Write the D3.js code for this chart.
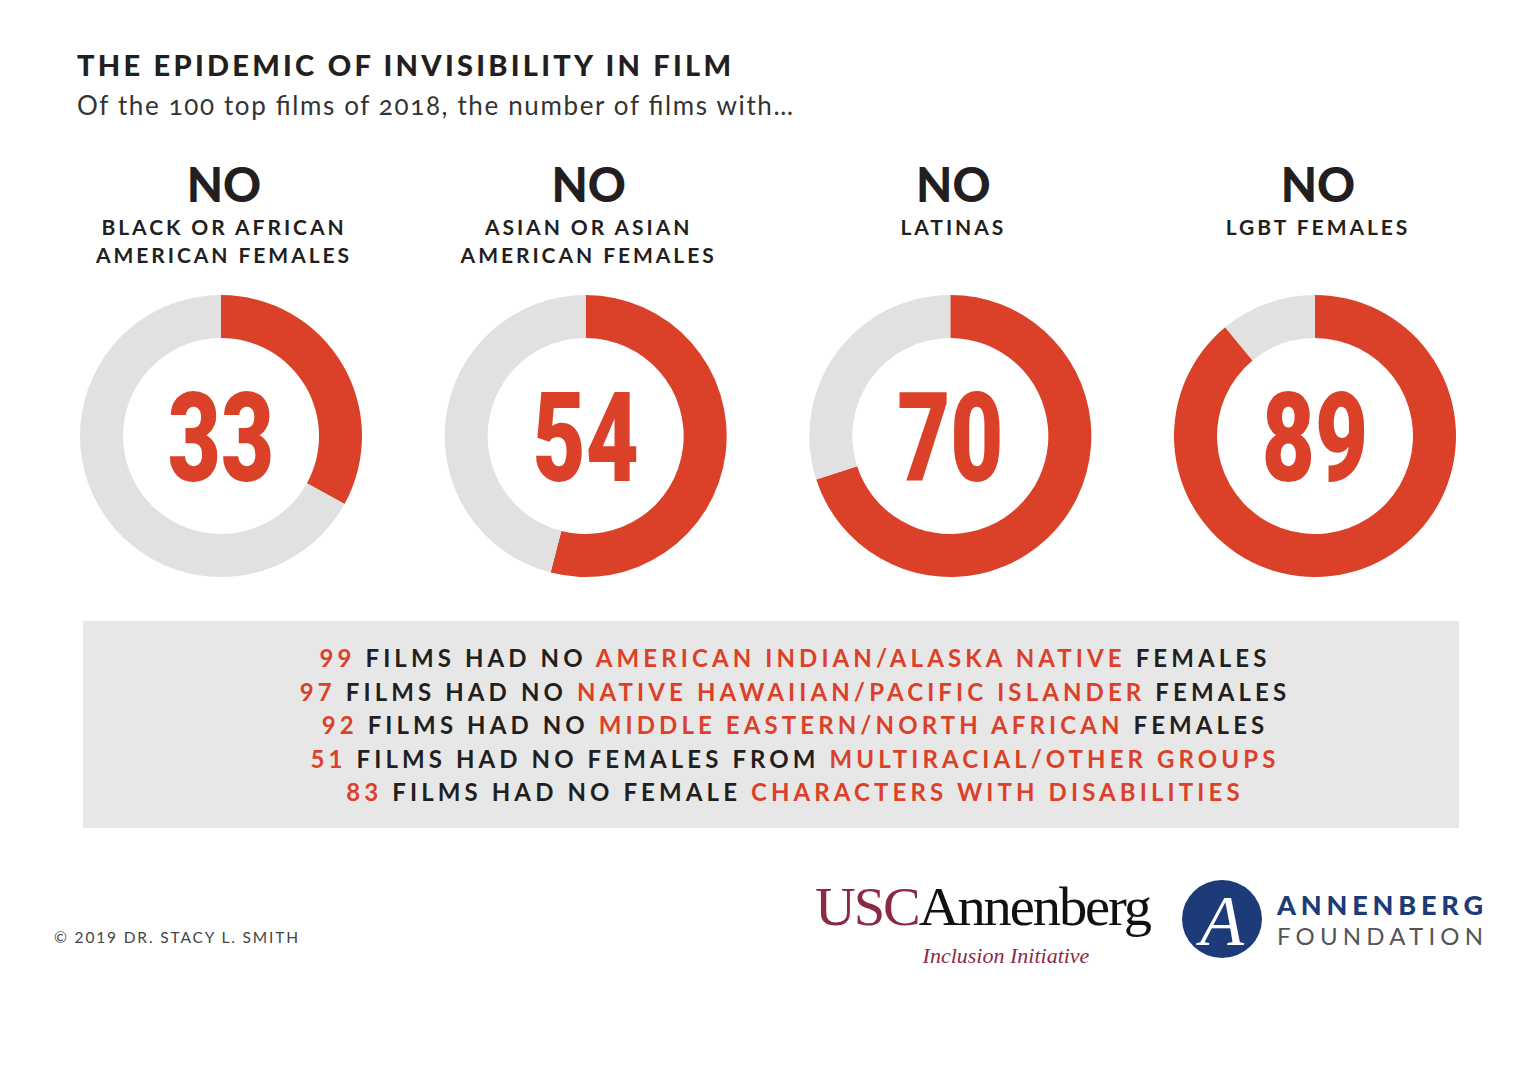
<!DOCTYPE html>
<html><head><meta charset="utf-8">
<script src="https://cdn.jsdelivr.net/npm/d3@7/dist/d3.min.js"></script>
<style>
html,body{margin:0;padding:0;background:#fff;}
svg{display:block;}
</style></head>
<body>
<svg id="chart" width="1536" height="1066"></svg>
<script>
// ---- data ----
const titleText = "THE EPIDEMIC OF INVISIBILITY IN FILM";
const subtitleText = "Of the 100 top films of 2018, the number of films with…";
const headerWord = "NO";
const categoryLines = [
  ["BLACK OR AFRICAN", "AMERICAN FEMALES"],
  ["ASIAN OR ASIAN", "AMERICAN FEMALES"],
  ["LATINAS"],
  ["LGBT FEMALES"]
];
const values = [33, 54, 70, 89];
const totalFilms = 100;

const otherCounts = [99, 97, 92, 51, 83];
const otherPrefix = [" FILMS HAD NO ", " FILMS HAD NO ", " FILMS HAD NO ", " FILMS HAD NO FEMALES FROM ", " FILMS HAD NO FEMALE "];
const otherGroup = ["AMERICAN INDIAN/ALASKA NATIVE", "NATIVE HAWAIIAN/PACIFIC ISLANDER", "MIDDLE EASTERN/NORTH AFRICAN", "MULTIRACIAL/OTHER GROUPS", "CHARACTERS WITH DISABILITIES"];
const otherSuffix = [" FEMALES", " FEMALES", " FEMALES", "", ""];
const copyright = "© 2019 DR. STACY L. SMITH";

// ---- style ----
const RED = "#db4129", GREY = "#e1e1e1", BOX = "#e7e7e7", INK = "#231f20";
const svg = d3.select("#chart");
const sans = "Lato, 'Noto Sans', sans-serif";

// title
svg.append("text").attr("x", 77).attr("y", 76)
  .attr("font-family", sans).attr("font-weight", 900).attr("font-size", 29)
  .attr("fill", INK).attr("textLength", 654).attr("lengthAdjust", "spacing")
  .text(titleText);
svg.append("text").attr("x", 77).attr("y", 115)
  .attr("font-family", sans).attr("font-weight", 400).attr("font-size", 26)
  .style("font-variant-numeric", "oldstyle-nums")
  .attr("fill", "#333").attr("textLength", 716).attr("lengthAdjust", "spacing")
  .text(subtitleText);

// columns
const x = d3.scalePoint().domain(d3.range(values.length)).range([221, 1315]);
const rOuter = 141, rInner = 98, cy = 436;
const pie = d3.pie().sort(null).value(d => d);
const arc = d3.arc().innerRadius(rInner).outerRadius(rOuter);

values.forEach((v, i) => {
  const g = svg.append("g").attr("transform", `translate(${x(i)},0)`);
  g.append("text").attr("x", 3).attr("y", 202).attr("text-anchor", "middle")
    .attr("font-family", sans).attr("font-weight", 900).attr("font-size", 47)
    .attr("fill", INK).text(headerWord);
  categoryLines[i].forEach((line, j) => {
    g.append("text").attr("x", 3).attr("y", 235 + j * 28).attr("text-anchor", "middle")
      .attr("font-family", sans).attr("font-weight", 700).attr("font-size", 21)
      .attr("letter-spacing", 2.95).attr("fill", INK).text(line);
  });
  const dg = g.append("g").attr("transform", `translate(0,${cy})`);
  dg.selectAll("path").data(pie([v, totalFilms - v])).join("path")
    .attr("d", arc).attr("fill", (d, k) => k === 0 ? RED : GREY);
  dg.append("text").attr("transform", "scale(0.74,1)")
    .attr("x", 0).attr("y", 45).attr("text-anchor", "middle")
    .attr("font-family", "Roboto, 'Liberation Sans', sans-serif").attr("font-weight", 900)
    .attr("font-size", 124).attr("fill", RED).text(v);
});

// box
svg.append("rect").attr("x", 83).attr("y", 621).attr("width", 1376).attr("height", 207).attr("fill", BOX);
otherCounts.forEach((c, i) => {
  const t = svg.append("text").attr("x", 795).attr("y", 667 + i * 33.6).attr("text-anchor", "middle")
    .attr("font-family", sans).attr("font-weight", 700).attr("font-size", 24)
    .attr("letter-spacing", 4.1).attr("fill", INK);
  t.append("tspan").attr("fill", RED).text(c);
  t.append("tspan").text(otherPrefix[i]);
  t.append("tspan").attr("fill", RED).text(otherGroup[i]);
  t.append("tspan").text(otherSuffix[i]);
});

// footer
svg.append("text").attr("x", 54).attr("y", 943)
  .attr("font-family", sans).attr("font-size", 15.5).attr("letter-spacing", 1.85)
  .attr("fill", "#444").text(copyright);

// USC Annenberg logo
const usc = svg.append("text").attr("x", 815).attr("y", 925)
  .attr("font-family", "'Liberation Serif', 'DejaVu Serif', serif").attr("font-size", 54)
  .attr("textLength", 335).attr("lengthAdjust", "spacingAndGlyphs").attr("letter-spacing", -2);
usc.append("tspan").attr("fill", "#8c2a44").text("USC");
usc.append("tspan").attr("fill", "#111").text("Annenberg");
svg.append("text").attr("x", 1006).attr("y", 963).attr("text-anchor", "middle")
  .attr("font-family", "'Liberation Serif', serif").attr("font-style", "italic").attr("font-size", 22)
  .attr("fill", "#8c2a44").text("Inclusion Initiative");

// Annenberg Foundation logo
svg.append("ellipse").attr("cx", 1222).attr("cy", 919).attr("rx", 40).attr("ry", 39).attr("fill", "#1d3b78");
svg.append("text").attr("x", 1222).attr("y", 945).attr("text-anchor", "middle")
  .attr("font-family", "'Liberation Serif', serif").attr("font-style", "italic").attr("font-size", 72)
  .attr("fill", "#fff").text("A");
svg.append("text").attr("x", 1277).attr("y", 915)
  .attr("font-family", sans).attr("font-weight", 900).attr("font-size", 27)
  .attr("fill", "#1d3b78").attr("textLength", 206).attr("lengthAdjust", "spacing").text("ANNENBERG");
svg.append("text").attr("x", 1277).attr("y", 945)
  .attr("font-family", sans).attr("font-weight", 400).attr("font-size", 24)
  .attr("fill", "#555").attr("textLength", 206).attr("lengthAdjust", "spacing").text("FOUNDATION");
</script>
</body></html>
